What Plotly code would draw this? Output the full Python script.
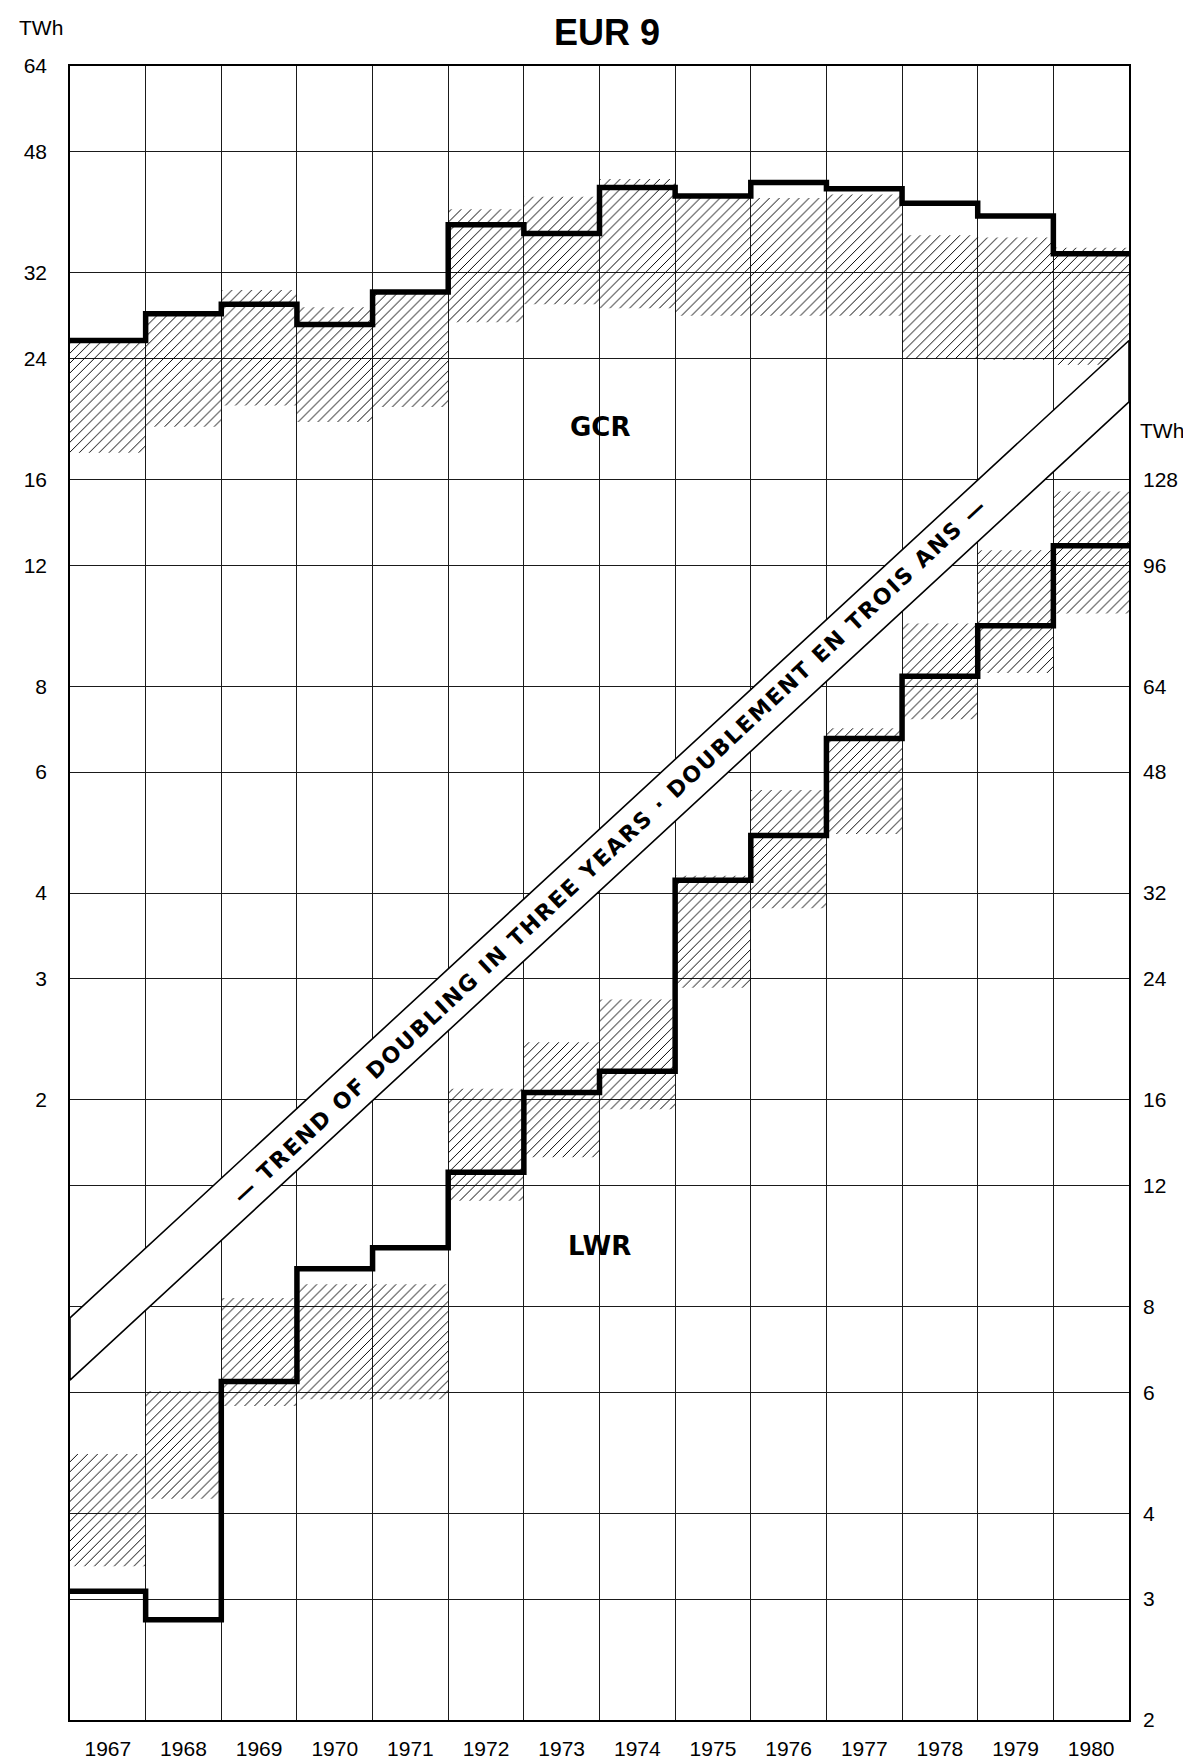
import math
import plotly.graph_objects as go

# ---------------- data ----------------
years = [1967, 1968, 1969, 1970, 1971, 1972, 1973, 1974, 1975, 1976, 1977, 1978, 1979, 1980]

# GCR (left axis, TWh)
gcr_twh = [25.5, 27.9, 28.8, 26.9, 30.0, 37.6, 36.5, 42.6, 41.4, 43.3, 42.4, 40.4, 38.7, 34.1]
gcr_high = [25.4, 27.7, 30.2, 28.5, 29.8, 39.6, 41.3, 43.8, 41.3, 41.1, 41.6, 36.3, 36.0, 34.8]
gcr_low = [17.5, 19.1, 20.5, 19.4, 20.4, 27.1, 28.8, 28.4, 27.7, 27.7, 27.7, 24.0, 23.9, 23.5]

# LWR (right axis, TWh)
lwr_twh = [3.08, 2.80, 6.22, 9.08, 9.74, 12.55, 16.4, 17.6, 33.4, 38.8, 53.7, 66.2, 78.4, 102.5]
lwr_high = [4.88, 6.02, 8.23, 8.62, 8.62, 16.6, 19.4, 22.4, 33.9, 45.2, 55.6, 79.0, 101.0, 123.0]
lwr_low = [3.35, 4.20, 5.73, 5.86, 5.86, 11.4, 13.2, 15.5, 23.3, 30.4, 39.0, 57.3, 66.9, 81.7]

# trend band (right-axis units) at the left and right edge of the chart
trend_upper = [7.7, 204.0]
trend_lower = [6.25, 166.0]

left_ticks = [64, 48, 32, 24, 16, 12, 8, 6, 4, 3, 2]
left_grid_extra = [1.5, 1, 0.75, 0.5, 0.375]
right_ticks = [128, 96, 64, 48, 32, 24, 16, 12, 8, 6, 4, 3, 2]

trend_text = "— TREND OF DOUBLING IN THREE YEARS · DOUBLEMENT EN TROIS ANS —"

# ---------------- figure ----------------
W, H = 1191, 1764
ML, MR, MT, MB = 62, 70, 58, 33
PW, PH = W - ML - MR, H - MT - MB

x_lo, x_hi = years[0] - 0.5, years[-1] + 0.5
edges = [y - 0.5 for y in years] + [x_hi]

LABEL_FONT = dict(family="Liberation Sans, Arial", size=21, color="black")
BOLD_FONT = "DejaVu Sans, Liberation Sans"
GRID = "#1a1a1a"

fig = go.Figure()

pattern = dict(shape="/", fgcolor="black", bgcolor="rgba(0,0,0,0)", size=7, solidity=0.14, fillmode="replace")

# GCR hatched band
fig.add_trace(go.Bar(
    x=years, base=gcr_low, y=[h - l for h, l in zip(gcr_high, gcr_low)], width=1,
    marker=dict(color="rgba(0,0,0,0)", line=dict(width=0), pattern=pattern),
    yaxis="y", showlegend=False, hoverinfo="skip"))
# GCR line
fig.add_trace(go.Scatter(
    x=edges, y=gcr_twh + [gcr_twh[-1]], mode="lines", line=dict(color="black", width=5.5, shape="hv"),
    yaxis="y", showlegend=False))

# LWR hatched band
fig.add_trace(go.Bar(
    x=years, base=lwr_low, y=[h - l for h, l in zip(lwr_high, lwr_low)], width=1,
    marker=dict(color="rgba(0,0,0,0)", line=dict(width=0), pattern=pattern),
    yaxis="y2", xaxis="x", showlegend=False, hoverinfo="skip"))

# trend band
fig.add_trace(go.Scatter(
    x=[x_lo, x_hi, x_hi, x_lo, x_lo],
    y=[trend_upper[0], trend_upper[1], trend_lower[1], trend_lower[0], trend_upper[0]],
    mode="lines", fill="toself", fillcolor="white", line=dict(color="black", width=1.6),
    yaxis="y2", showlegend=False, hoverinfo="skip"))

# LWR line
fig.add_trace(go.Scatter(
    x=edges, y=lwr_twh + [lwr_twh[-1]], mode="lines", line=dict(color="black", width=5.5, shape="hv"),
    yaxis="y2", showlegend=False))

left_vals = left_ticks + left_grid_extra
left_text = [str(v) for v in left_ticks] + [""] * len(left_grid_extra)

fig.update_layout(
    width=W, height=H,
    margin=dict(l=ML, r=MR, t=MT, b=MB),
    paper_bgcolor="white", plot_bgcolor="white",
    barmode="overlay",
    xaxis=dict(
        range=[x_lo, x_hi], tickvals=years, ticktext=[str(y) for y in years],
        showgrid=False, zeroline=False, ticks="", tickfont=LABEL_FONT, ticklabelstandoff=9,
        showline=True, mirror=True, linecolor="black", linewidth=1.5,
        minor=dict(tick0=x_lo, dtick=1, showgrid=True, gridcolor=GRID, gridwidth=1, ticks=""),
    ),
    yaxis=dict(
        type="log", range=[math.log10(0.25), math.log10(64)],
        tickvals=left_vals, ticktext=left_text, showgrid=True, gridcolor=GRID, gridwidth=1,
        ticks="", tickfont=LABEL_FONT, ticklabelstandoff=17,
        showline=True, mirror=True, linecolor="black", linewidth=1.5, zeroline=False,
    ),
    yaxis2=dict(
        type="log", range=[math.log10(2), math.log10(512)], overlaying="y", side="right",
        tickvals=right_ticks, ticktext=[str(v) for v in right_ticks], showgrid=False,
        ticks="", tickfont=LABEL_FONT, ticklabelstandoff=13, showline=False, zeroline=False,
    ),
)

def px_x(px):
    return (px - ML) / PW

def px_y(py):
    return (H - MB - py) / PH

ann = []
ann.append(dict(text="<b>EUR 9</b>", xref="paper", yref="paper", x=px_x(599), y=px_y(24),
                xanchor="center", yanchor="middle", showarrow=False,
                font=dict(family="Liberation Sans, Arial", size=36, color="black")))
ann.append(dict(text="TWh", xref="paper", yref="paper", x=px_x(33), y=px_y(19),
                xanchor="center", yanchor="middle", showarrow=False, font=LABEL_FONT))
ann.append(dict(text="TWh", xref="paper", yref="paper", x=px_x(1154), y=px_y(427),
                xanchor="center", yanchor="middle", showarrow=False, font=LABEL_FONT))
ann.append(dict(text="<b>GCR</b>", xref="x", yref="y", x=1973.5, y=math.log10(19.1),
                xanchor="center", yanchor="middle", showarrow=False,
                font=dict(family=BOLD_FONT, size=26, color="black")))
ann.append(dict(text="<b>LWR</b>", xref="x", yref="y2", x=1973.5, y=math.log10(9.8),
                xanchor="center", yanchor="middle", showarrow=False,
                font=dict(family=BOLD_FONT, size=26, color="black")))

# trend text along the band
angle = math.degrees(math.atan2(
    (math.log10(trend_upper[1]) - math.log10(trend_upper[0])) / (math.log10(512) - math.log10(2)) * PH,
    PW))
xc = x_lo + 0.51 * (x_hi - x_lo)
frac = (xc - x_lo) / (x_hi - x_lo)
lu = math.log10(trend_upper[0]) + frac * (math.log10(trend_upper[1]) - math.log10(trend_upper[0]))
ll = math.log10(trend_lower[0]) + frac * (math.log10(trend_lower[1]) - math.log10(trend_lower[0]))
ann.append(dict(text='<span style="letter-spacing:1.8px"><b>' + trend_text + "</b></span>",
                xref="x", yref="y2", x=xc, y=(lu + ll) / 2,
                xanchor="center", yanchor="middle", showarrow=False, textangle=-angle,
                font=dict(family=BOLD_FONT, size=22, color="black")))

fig.update_layout(annotations=ann)

fig.write_html("out.html")
